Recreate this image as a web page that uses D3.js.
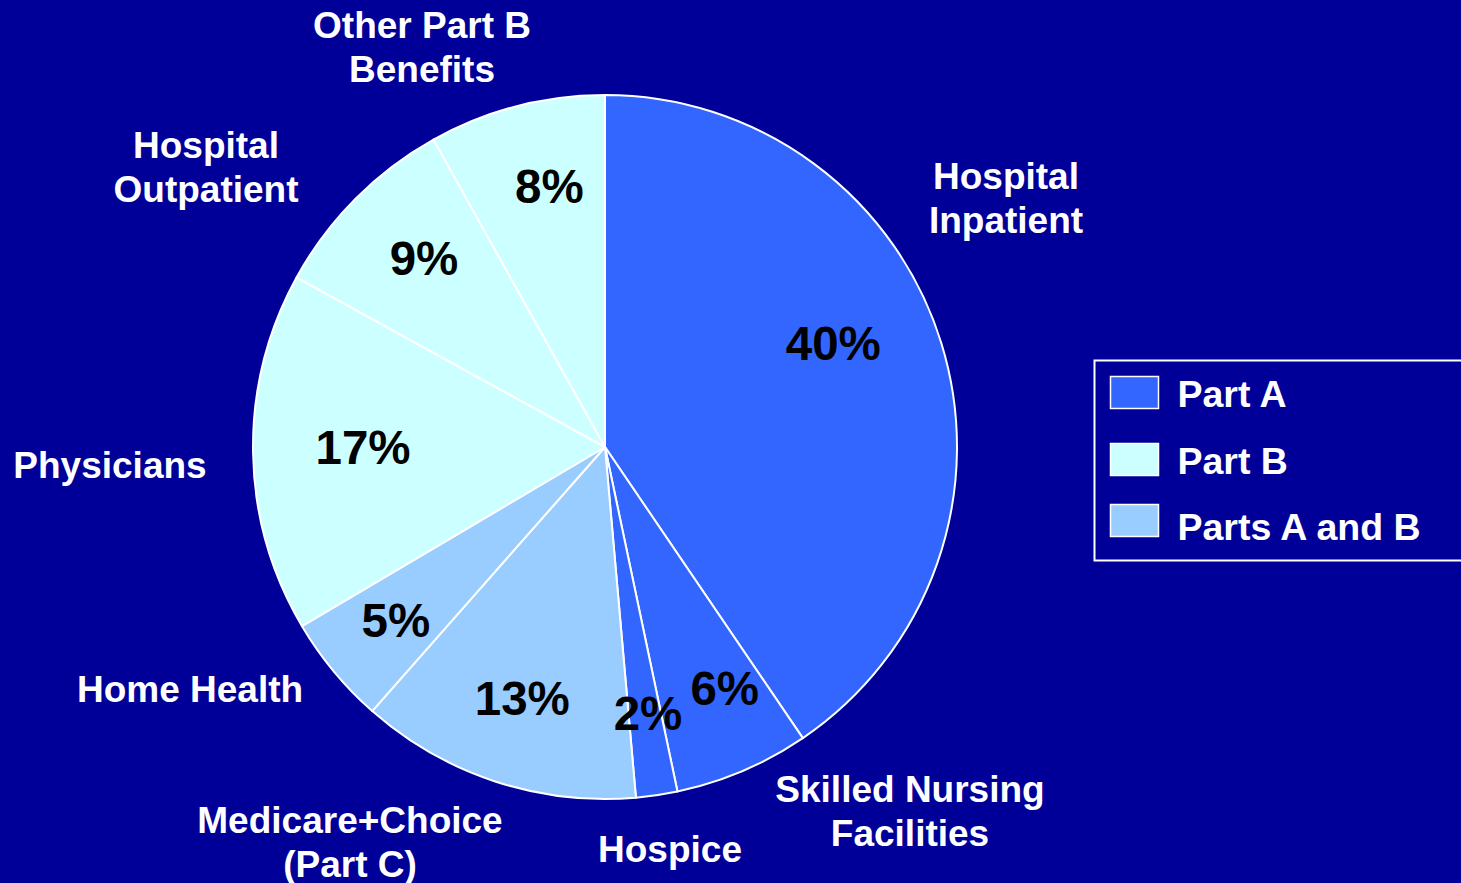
<!DOCTYPE html>
<html>
<head>
<meta charset="utf-8">
<script src="https://cdn.jsdelivr.net/npm/d3@7"></script>
<style>
  html, body { margin: 0; padding: 0; background: #000099; overflow: hidden; }
  text { font-family: "Liberation Sans", Arial, sans-serif; font-weight: bold; }
</style>
</head>
<body>
<script>
// slices, clockwise from 12 o'clock
const categories = ['Hospital Inpatient', 'Skilled Nursing Facilities', 'Hospice',
  'Medicare+Choice (Part C)', 'Home Health', 'Physicians', 'Hospital Outpatient', 'Other Part B Benefits'];
// unrounded shares as drawn, and the rounded labels printed on the slices
const shares = [40.5, 6.2, 1.9, 12.9, 5.0, 16.5, 8.9, 8.1];
const pctLabels = ['40%', '6%', '2%', '13%', '5%', '17%', '9%', '8%'];
const parts = ['Part A', 'Part A', 'Part A', 'Parts A and B', 'Parts A and B', 'Part B', 'Part B', 'Part B'];
const labelLines = [['Hospital', 'Inpatient'], ['Skilled Nursing', 'Facilities'], ['Hospice'],
  ['Medicare+Choice', '(Part C)'], ['Home Health'], ['Physicians'], ['Hospital', 'Outpatient'], ['Other Part B', 'Benefits']];
const legendKeys = ['Part A', 'Part B', 'Parts A and B'];
const legendColors = ['#3366ff', '#ccffff', '#99ccff'];

// layout
const width = 1461, height = 883;
const cx = 605, cy = 447, radius = 352;
const pctRadius = 265;
const pctNudge = [[-25, -26], [16, -2], [4, 4], [0, 0], [-5, 4], [23, -4], [7, -2], [11, -4]];
const outerPos = [[1006, 189], [910, 802], [670, 862], [350, 833], [190, 702], [110, 478], [206, 158], [422, 38]];
const lineGap = 44;

const color = d3.scaleOrdinal().domain(legendKeys).range(legendColors);

let svg = d3.select('body').append('svg')
  .attr('width', width)
  .attr('height', height);

svg.append('rect').attr('width', width).attr('height', height).attr('fill', '#000099');

const pie = d3.pie().sort(null).value(d => d)(shares);
const arc = d3.arc().innerRadius(0).outerRadius(radius);
const labelArc = d3.arc().innerRadius(pctRadius).outerRadius(pctRadius);

let g = svg.append('g').attr('transform', `translate(${cx},${cy})`);

g.selectAll('path.slice')
  .data(pie)
  .join('path')
  .attr('class', 'slice')
  .attr('d', arc)
  .attr('fill', (d, i) => color(parts[i]))
  .attr('stroke', '#ffffff')
  .attr('stroke-width', 2)
  .attr('stroke-linejoin', 'round');

// percent labels
g.selectAll('text.pct')
  .data(pie)
  .join('text')
  .attr('class', 'pct')
  .attr('x', (d, i) => labelArc.centroid(d)[0] + pctNudge[i][0])
  .attr('y', (d, i) => labelArc.centroid(d)[1] + pctNudge[i][1])
  .attr('dy', '0.35em')
  .attr('text-anchor', 'middle')
  .attr('font-size', 47.5)
  .attr('fill', '#000000')
  .text((d, i) => pctLabels[i]);

// category labels around the pie
categories.forEach((c, i) => {
  let t = svg.append('text')
    .attr('text-anchor', 'middle')
    .attr('font-size', 37)
    .attr('fill', '#ffffff');
  labelLines[i].forEach((line, j) => {
    t.append('tspan')
      .attr('x', outerPos[i][0])
      .attr('y', outerPos[i][1] + j * lineGap)
      .text(line);
  });
});

// legend
let legend = svg.append('g').attr('transform', 'translate(1094.5,360.5)');
legend.append('rect')
  .attr('width', 400)
  .attr('height', 200)
  .attr('fill', '#000099')
  .attr('stroke', '#ffffff')
  .attr('stroke-width', 2);

legendKeys.forEach((k, i) => {
  let yOff = [16, 83, 144][i];
  legend.append('rect')
    .attr('x', 16)
    .attr('y', yOff)
    .attr('width', 48)
    .attr('height', 32)
    .attr('fill', color(k))
    .attr('stroke', '#ffffff')
    .attr('stroke-width', 1.5);
  legend.append('text')
    .attr('x', 83)
    .attr('y', [46.5, 113.5, 179.5][i])
    .attr('font-size', 37.5)
    .attr('fill', '#ffffff')
    .text(k);
});
</script>
</body>
</html>
